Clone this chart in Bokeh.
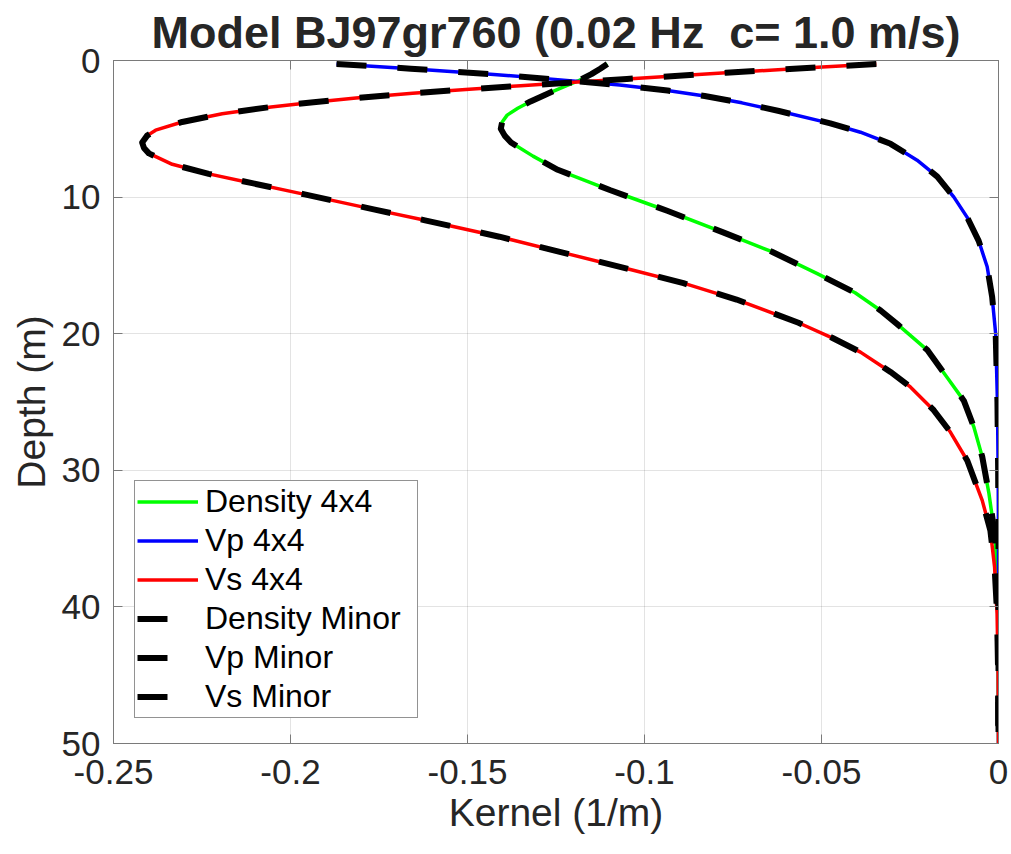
from bokeh.plotting import figure
from bokeh.models import Range1d, FixedTicker, LinearAxis, Legend, LegendItem, CustomJSTickFormatter
from bokeh.embed import file_html
from bokeh.resources import INLINE

# ---------------- data ----------------
title_text = "Model BJ97gr760 (0.02 Hz\u00a0 c= 1.0 m/s)"
x_label = "Kernel (1/m)"
y_label = "Depth (m)"

x_ticks = [-0.25, -0.2, -0.15, -0.1, -0.05, 0]
x_tick_labels = ["-0.25", "-0.2", "-0.15", "-0.1", "-0.05", "0"]
y_ticks = [0, 10, 20, 30, 40, 50]
y_tick_labels = ["0", "10", "20", "30", "40", "50"]

depth_den = [0.25, 0.6, 1.0, 1.5, 2.0, 2.5, 3.0, 3.5, 4.0, 4.5, 5.0, 5.5, 6.0, 7.0, 8.0,
             9.5, 11.0, 12.6, 14.0, 15.6, 17.0, 18.3, 19.3, 21.2, 23.2, 24.9, 26.8,
             29.0, 31.7, 35.0, 40.0, 45.0, 50.0]
density = [-0.1105, -0.1125, -0.1150, -0.1188, -0.1235, -0.1280, -0.1322, -0.1358,
           -0.1388, -0.1402, -0.1406, -0.1395, -0.1377, -0.1315, -0.1245, -0.1096,
           -0.0936, -0.0776, -0.0640, -0.0512, -0.0405, -0.0333, -0.0286, -0.0201,
           -0.0145, -0.0098, -0.0070, -0.0046, -0.0027, -0.0009, -0.0002, -0.0001, 0.0]

depth_vp = [0.25, 0.6, 1.0, 1.4, 1.8, 2.2, 2.6, 3.1, 3.7, 4.6, 5.25, 6.1, 7.3, 8.5,
            10.0, 11.5, 13.2, 15.1, 17.3, 20.0, 25.0, 30.0, 35.0, 40.0, 50.0]
vp = [-0.1870, -0.1660, -0.1435, -0.1245, -0.1070, -0.0935, -0.0830, -0.0725, -0.0620,
      -0.0475, -0.0390, -0.0305, -0.0230, -0.0173, -0.0126, -0.0088, -0.0056, -0.0032,
      -0.0018, -0.0008, -0.0003, -0.0001, 0.0, 0.0, 0.0]

depth_vs = [0.25, 0.5, 0.9, 1.35, 1.6, 1.85, 2.1, 2.4, 2.75, 3.05, 3.4, 3.9, 4.5, 5.1,
            5.5, 6.0, 6.4, 6.8, 7.6, 8.3, 9.0, 9.8, 10.9, 11.7, 12.9, 14.1, 15.3, 16.3,
            17.5, 19.2, 20.3, 21.35, 22.8, 23.9, 25.6, 27.2, 29.3, 30.9, 32.2, 34.4,
            37.1, 40.5, 45.0, 50.0]
vs = [-0.0345, -0.0510, -0.0770, -0.1050, -0.1200, -0.1350, -0.1495, -0.1655, -0.1815,
      -0.1935, -0.2055, -0.2193, -0.2306, -0.2381, -0.2405, -0.2419, -0.2414, -0.2400,
      -0.2334, -0.2231, -0.2105, -0.1960, -0.1765, -0.1620, -0.1410, -0.1225, -0.1040,
      -0.0890, -0.0740, -0.0565, -0.0470, -0.0390, -0.0305, -0.0249, -0.0183, -0.0136,
      -0.0088, -0.0065, -0.0046, -0.0023, -0.0011, -0.0004, -0.0001, 0.0]

# Minor-model kernels overlay the 4x4 ones
density_minor = density
vp_minor = vp
vs_minor = vs

series_4x4 = ["Density 4x4", "Vp 4x4", "Vs 4x4"]
series_minor = ["Density Minor", "Vp Minor", "Vs Minor"]

# ---------------- figure ----------------
FONT = "Liberation Sans"
TXT = "#262626"
AX = "#7a7a7a"

p = figure(width=1011, height=854, output_backend="svg", toolbar_location=None,
           x_range=Range1d(-0.25, 0), y_range=Range1d(50, 0),
           min_border_left=113, min_border_right=13, min_border_top=60, min_border_bottom=111)
p.background_fill_color = "white"
p.border_fill_color = "white"
p.outline_line_color = AX
p.outline_line_width = 1

p.title.text = title_text
p.title.align = "center"
p.title.text_font = FONT
p.title.text_font_size = "45px"
p.title.text_font_style = "bold"
p.title.text_color = TXT
p.title.standoff = 6

for ax, ticks, labels in ((p.xaxis[0], x_ticks, x_tick_labels), (p.yaxis[0], y_ticks, y_tick_labels)):
    ax.ticker = FixedTicker(ticks=ticks)
    ax.major_label_overrides = {t: l for t, l in zip(ticks, labels)}
    ax.major_label_text_font = FONT
    ax.major_label_text_font_size = "35px"
    ax.major_label_text_color = TXT
    ax.axis_label_text_font = FONT
    ax.axis_label_text_font_size = "39px"
    ax.axis_label_text_font_style = "normal"
    ax.axis_label_text_color = TXT
    ax.axis_line_color = AX
    ax.major_tick_line_color = AX
    ax.major_tick_in = 9
    ax.major_tick_out = 0
    ax.minor_tick_line_color = None

p.xaxis.axis_label = x_label
p.yaxis.axis_label = y_label
p.xaxis.major_label_standoff = 16
p.xaxis.axis_label_standoff = 4
p.yaxis.major_label_standoff = 13
p.yaxis.axis_label_standoff = 6

# mirrored tick marks on top and right (MATLAB box style)
blank = CustomJSTickFormatter(code="return ''")
top = LinearAxis(ticker=FixedTicker(ticks=x_ticks), formatter=blank)
right = LinearAxis(ticker=FixedTicker(ticks=y_ticks), formatter=blank)
for ax in (top, right):
    ax.axis_line_color = AX
    ax.major_tick_line_color = AX
    ax.major_tick_in = 9
    ax.major_tick_out = 0
    ax.minor_tick_line_color = None
    ax.major_label_standoff = 0
p.add_layout(top, "above")
p.add_layout(right, "right")

p.xgrid.ticker = FixedTicker(ticks=x_ticks)
p.ygrid.ticker = FixedTicker(ticks=y_ticks)
p.grid.grid_line_color = "#262626"
p.grid.grid_line_alpha = 0.13

# ---------------- curves ----------------
r_den = p.line(density, depth_den, line_color="#00ff00", line_width=3.5, line_join="round")
r_vp = p.line(vp, depth_vp, line_color="#0000ff", line_width=3.5, line_join="round")
r_vs = p.line(vs, depth_vs, line_color="#ff0000", line_width=3.5, line_join="round")

dash = "30 31"
r_den_m = p.line(density_minor, depth_den, line_color="black", line_width=6, line_dash=dash, line_join="round")
r_vp_m = p.line(vp_minor, depth_vp, line_color="black", line_width=6, line_dash=dash, line_join="round")
r_vs_m = p.line(vs_minor, depth_vs, line_color="black", line_width=6, line_dash=dash, line_join="round")

renderers = [r_den, r_vp, r_vs, r_den_m, r_vp_m, r_vs_m]
labels = series_4x4 + series_minor
legend = Legend(items=[LegendItem(label=l, renderers=[r]) for l, r in zip(labels, renderers)],
                location=(21, 25), margin=0, padding=2, spacing=2,
                glyph_width=61, glyph_height=35, label_height=35, label_width=210,
                label_standoff=7,
                label_text_font=FONT, label_text_font_size="32px", label_text_color="#000000",
                border_line_color="#262626", border_line_width=1,
                background_fill_color="white", background_fill_alpha=1.0)
p.add_layout(legend)

open("out.html", "w").write(file_html(p, INLINE))
